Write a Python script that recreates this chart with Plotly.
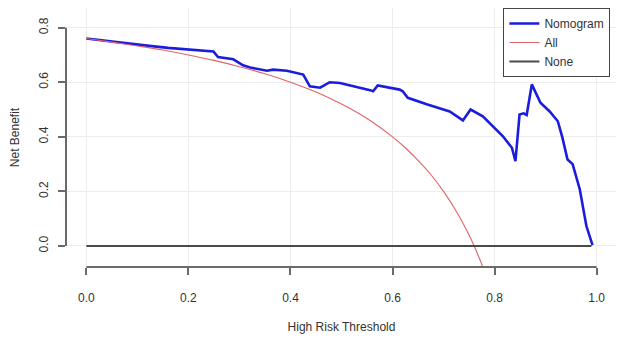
import plotly.graph_objects as go

# Nomogram decision curve
nomo_threshold = [0.000, 0.027, 0.060, 0.119, 0.160, 0.206, 0.243, 0.249, 0.258, 0.288, 0.307,
                  0.321, 0.354, 0.366, 0.393, 0.425, 0.438, 0.458, 0.477, 0.497, 0.556, 0.562,
                  0.571, 0.614, 0.620, 0.630, 0.667, 0.712, 0.738, 0.753, 0.777, 0.795, 0.816,
                  0.834, 0.841, 0.849, 0.857, 0.863, 0.873, 0.890, 0.908, 0.924, 0.933, 0.943,
                  0.953, 0.967, 0.980, 0.992]
nomo_benefit = [0.760, 0.754, 0.745, 0.734, 0.726, 0.720, 0.715, 0.713, 0.692, 0.684, 0.662,
                0.654, 0.642, 0.646, 0.642, 0.628, 0.585, 0.580, 0.600, 0.597, 0.571, 0.567,
                0.588, 0.573, 0.567, 0.543, 0.519, 0.493, 0.460, 0.500, 0.475, 0.440, 0.403,
                0.360, 0.311, 0.482, 0.486, 0.480, 0.592, 0.525, 0.493, 0.457, 0.397, 0.317,
                0.300, 0.208, 0.073, 0.003]

# Treat-all curve
all_threshold = [0.00, 0.05, 0.10, 0.15, 0.20, 0.25, 0.30, 0.35, 0.40, 0.45, 0.50, 0.55,
                 0.60, 0.625, 0.65, 0.675, 0.70, 0.725, 0.75, 0.76, 0.775, 0.785]
all_benefit = [0.760, 0.747, 0.733, 0.718, 0.700, 0.680, 0.657, 0.631, 0.600, 0.564, 0.520,
               0.467, 0.400, 0.360, 0.314, 0.262, 0.200, 0.127, 0.040, 0.000, -0.067, -0.116]

# Treat-none line
none_threshold = [0.0, 0.99]
none_benefit = [0.0, 0.0]

x_ticks = [0.0, 0.2, 0.4, 0.6, 0.8, 1.0]
x_ticktext = ["0.0", "0.2", "0.4", "0.6", "0.8", "1.0"]
y_ticks = [0.0, 0.2, 0.4, 0.6, 0.8]
y_ticktext = ["0.0", "0.2", "0.4", "0.6", "0.8"]

FONT = "Liberation Sans, Arial, Helvetica, sans-serif"
AXIS_COL = "#6a6a6a"

fig = go.Figure()
fig.add_trace(go.Scatter(x=nomo_threshold, y=nomo_benefit, mode="lines", name="Nomogram",
                         line=dict(color="#1c1cdc", width=2.6)))
fig.add_trace(go.Scatter(x=all_threshold, y=all_benefit, mode="lines", name="All",
                         line=dict(color="#e06464", width=1.1, shape="spline")))
fig.add_trace(go.Scatter(x=none_threshold, y=none_benefit, mode="lines", name="None",
                         line=dict(color="#4a4a4a", width=2)))

# R-style axis lines spanning only the tick range
fig.add_shape(type="line", xref="x", yref="paper", x0=x_ticks[0], x1=x_ticks[-1], y0=0, y1=0,
              line=dict(color=AXIS_COL, width=2))
fig.add_shape(type="line", xref="paper", yref="y", x0=0, x1=0, y0=y_ticks[0], y1=y_ticks[-1],
              line=dict(color=AXIS_COL, width=2))

# The page body adds an 8px offset, so the figure is 616x332 to fill the 624x340 window
fig.update_layout(
    width=616, height=332,
    margin=dict(l=58, r=7, t=0, b=73, autoexpand=False),
    paper_bgcolor="white", plot_bgcolor="white",
    font=dict(family=FONT, size=12, color="#333333"),
    showlegend=True,
    legend=dict(x=0.988, y=1.0, xanchor="right", yanchor="top",
                bordercolor="#444444", borderwidth=1, bgcolor="white",
                font=dict(size=12, color="#333333"), tracegroupgap=0,
                itemwidth=30),
    xaxis=dict(range=[-0.04, 1.04], tickvals=x_ticks, ticktext=x_ticktext, automargin=False,
               showgrid=True, gridcolor="#ececec", gridwidth=1, zeroline=False,
               showline=False, ticks="outside", ticklen=7, tickwidth=1.5, tickcolor=AXIS_COL,
               ticklabelstandoff=13,
               title=dict(text="High Risk Threshold", standoff=18, font=dict(size=12))),
    yaxis=dict(range=[-0.077, 0.872], tickvals=y_ticks, ticktext=y_ticktext, tickangle=-90,
               automargin=False,
               showgrid=True, gridcolor="#ececec", gridwidth=1, zeroline=False,
               showline=False, ticks="outside", ticklen=7, tickwidth=1.5, tickcolor=AXIS_COL,
               ticklabelstandoff=5,
               title=dict(text="Net Benefit", standoff=16, font=dict(size=12))),
)

fig.write_html("out.html")
